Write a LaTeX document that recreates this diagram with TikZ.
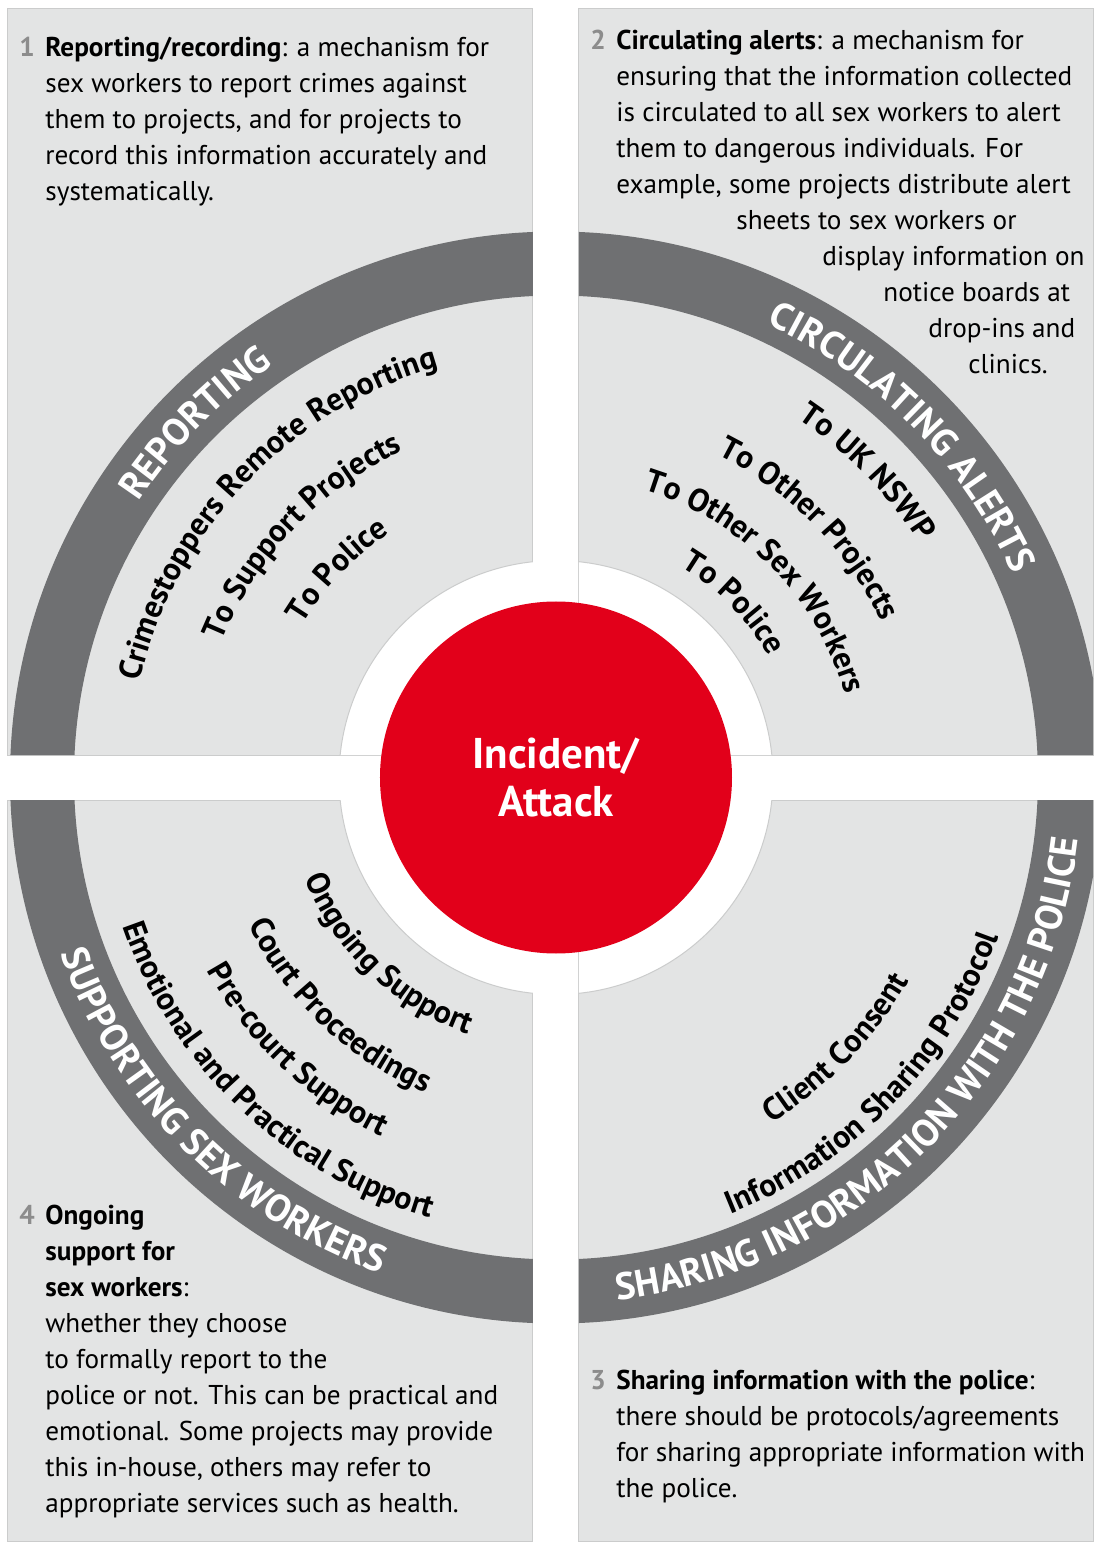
\documentclass[tikz,border=0pt]{standalone}
\usepackage{fontspec}
\setmainfont{PT Sans}
\usepackage{tikz}
\usetikzlibrary{decorations.text}
\definecolor{panelgray}{HTML}{E3E4E4}
\definecolor{ringgray}{HTML}{6F7072}
\definecolor{alertred}{HTML}{E2001A}
\definecolor{numgray}{HTML}{8C8C8C}
\definecolor{edgegray}{HTML}{CBCCCC}
\newcommand{\bodyfont}{\fontsize{13.6}{18}\selectfont}
\newcommand{\ringfont}{\fontsize{19}{19}\selectfont\bfseries}
\newcommand{\itemfont}{\fontsize{16}{16}\selectfont\bfseries}
\newcommand{\stepno}[1]{\leavevmode\llap{\makebox[13pt][l]{\textcolor{numgray}{\bfseries #1}}}}
\tikzstyle{panel} = [fill=panelgray, draw=edgegray, line width=0.5]
\tikzstyle{para} = [anchor=base west, inner sep=0pt, font=\bodyfont]
\tikzstyle{ringlabel} = [decorate, decoration={text along path, text align=center, text color=white}]
\tikzstyle{itemlabel} = [decorate, decoration={text along path, text align=center}]
\tikzstyle{alert} = [circle, fill=alertred, minimum size=176pt, inner sep=0pt, text=white, align=center, font=\fontsize{21.5}{24}\selectfont\bfseries]

\begin{document}
\begin{tikzpicture}[x=0.5pt, y=0.5pt]
\useasboundingbox (-556, -764.5) rectangle (537, 777.5);
\fill [white] (-556, -764.5) rectangle (537, 777.5);

% quadrants
\draw [panel] (-548, 22.5) rectangle (-23, 768.5);
\draw [panel] (23, 22.5) rectangle (537, 768.5);
\draw [panel] (-548, -763.5) rectangle (-23, -22.5);
\draw [panel] (23, -763.5) rectangle (537, -22.5);

% ring and hub
\begin{scope}
\clip (-548, 22.5) rectangle (-23, 768.5) (23, 22.5) rectangle (537, 768.5)
      (-548, -763.5) rectangle (-23, -22.5) (23, -763.5) rectangle (537, -22.5);
\fill [ringgray, even odd rule] (0, 0) circle [radius=546] (0, 0) circle [radius=482];
\filldraw [fill=white, draw=edgegray, line width=0.5] (0, 0) circle [radius=217];
\end{scope}
\node [alert] at (0, 0) (incident) {Incident/\\Attack};

% ring labels
\path [ringlabel, decoration={text={|\ringfont|REPORTING}}] (180.5:500) arc [start angle=180.5, end angle=90.5, radius=500];
\path [ringlabel, decoration={text={|\ringfont|CIRCULATING ALERTS}}] (89.5:500) arc [start angle=89.5, end angle=-0.5, radius=500];
\path [ringlabel, decoration={text={|\ringfont|SHARING INFORMATION WITH THE POLICE}}] (-90:526) arc [start angle=-90, end angle=0, radius=526];
\path [ringlabel, decoration={text={|\ringfont|SUPPORTING SEX WORKERS}}] (180:526) arc [start angle=180, end angle=270, radius=526];

% reporting
\path [itemlabel, decoration={text={|\itemfont|Crimestoppers Remote Reporting}}] (181.5:427) arc [start angle=181.5, end angle=91.5, radius=427];
\path [itemlabel, decoration={text={|\itemfont|To Support Projects}}] (181.5:361) arc [start angle=181.5, end angle=91.5, radius=361];
\path [itemlabel, decoration={text={|\itemfont|To Police}}] (181.5:296) arc [start angle=181.5, end angle=91.5, radius=296];

% circulating
\path [itemlabel, decoration={text={|\itemfont|To UK NSWP}}] (89.5:433) arc [start angle=89.5, end angle=-0.5, radius=433];
\path [itemlabel, decoration={text={|\itemfont|To Other Projects}}] (89.5:361) arc [start angle=89.5, end angle=-0.5, radius=361];
\path [itemlabel, decoration={text={|\itemfont|To Other Sex Workers}}] (89.5:301) arc [start angle=89.5, end angle=-0.5, radius=301];
\path [itemlabel, decoration={text={|\itemfont|To Police}}] (89.5:245) arc [start angle=89.5, end angle=-0.5, radius=245];

% sharing
\path [itemlabel, decoration={text={|\itemfont|Client Consent}}] (-89:407) arc [start angle=-89, end angle=1, radius=407];
\path [itemlabel, decoration={text={|\itemfont|Information Sharing Protocol}}] (-89:470) arc [start angle=-89, end angle=1, radius=470];

% supporting
\path [itemlabel, decoration={text={|\itemfont|Ongoing Support}}] (181.5:271) arc [start angle=181.5, end angle=271.5, radius=271];
\path [itemlabel, decoration={text={|\itemfont|Court Proceedings}}] (181.5:341) arc [start angle=181.5, end angle=271.5, radius=341];
\path [itemlabel, decoration={text={|\itemfont|Pre-court Support}}] (181.5:399) arc [start angle=181.5, end angle=271.5, radius=399];
\path [itemlabel, decoration={text={|\itemfont|Emotional and Practical Support}}] (181.5:458) arc [start angle=181.5, end angle=271.5, radius=458];

% notes
\node [para] at (-511, 720.5) (note1) {\parbox[t]{500pt}{\raggedright
\stepno{1}\textbf{Reporting/recording}: a mechanism for\\
sex workers to report crimes against\\
them to projects, and for projects to\\
record this information accurately and\\
systematically.}};

\node [para] at (60, 727.5) (note2) {\parbox[t]{500pt}{\raggedright
\stepno{2}\textbf{Circulating alerts}: a mechanism for\\
ensuring that the information collected\\
is circulated to all sex workers to alert\\
them to dangerous individuals. For\\
example, some projects distribute alert\\
\hspace*{60pt}sheets to sex workers or\\
\hspace*{103pt}display information on\\
\hspace*{133.5pt}notice boards at\\
\hspace*{156pt}drop-ins and\\
\hspace*{176pt}clinics.}};

\node [para] at (60, -611.5) (note3) {\parbox[t]{500pt}{\raggedright
\stepno{3}\textbf{Sharing information with the police}:\\
there should be protocols/agreements\\
for sharing appropriate information with\\
the police.}};

\node [para] at (-511, -446.5) (note4) {\parbox[t]{500pt}{\raggedright
\stepno{4}\textbf{Ongoing}\\
\textbf{support for}\\
\textbf{sex workers}:\\
whether they choose\\
to formally report to the\\
police or not. This can be practical and\\
emotional. Some projects may provide\\
this in-house, others may refer to\\
appropriate services such as health.}};

\end{tikzpicture}
\end{document}
